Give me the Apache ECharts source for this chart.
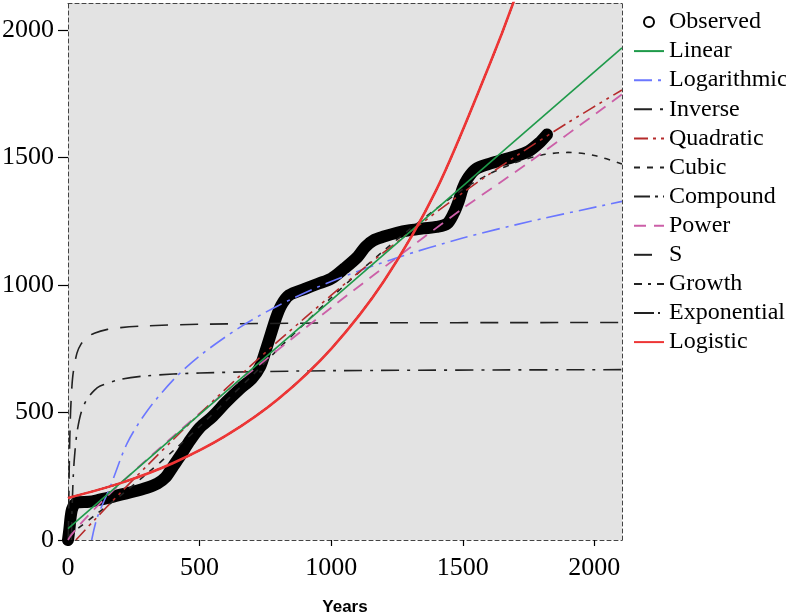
<!DOCTYPE html>
<html>
<head>
<meta charset="utf-8">
<script src="https://cdn.jsdelivr.net/npm/echarts@6/dist/echarts.min.js"></script>
<style>
  html, body { margin: 0; padding: 0; background: #fff; }
  #main { width: 786px; height: 616px; }
</style>
</head>
<body>
<div id="main"></div>
<script>
var xTicks = [0, 500, 1000, 1500, 2000];
var yTicks = [0, 500, 1000, 1500, 2000];

// observed values (years, value)
var observed = [[0,0],[5,40],[10,90],[15,120],[25,140],[40,148],[80,150],[120,158],[160,167],[200,178],[250,190],[300,205],[340,222],[370,245],[400,290],[430,335],[460,385],[500,440],[550,485],[600,540],[650,590],[700,635],[730,680],[750,740],[770,805],[790,870],[810,920],[840,960],[900,985],[950,1005],[1000,1025],[1050,1065],[1100,1110],[1130,1150],[1160,1175],[1200,1190],[1250,1205],[1300,1215],[1350,1222],[1400,1228],[1440,1240],[1465,1280],[1485,1330],[1500,1380],[1520,1420],[1550,1455],[1600,1475],[1650,1490],[1700,1505],[1750,1525],[1790,1557],[1820,1590]];

// fitted curves
var linearFit = [[0,45],[2105,1930]];
var logFit = [[90,0],[110,85],[160,208],[225,380],[300,505],[400,628],[500,722],[650,832],[800,920],[1000,1014],[1250,1107],[1500,1184],[1750,1248],[2105,1328]];
var inverseFit = [[13,0],[15,105],[20,250],[25,330],[34,420],[50,500],[72,552],[100,587],[122,604],[200,630],[300,644],[500,655],[1000,664],[2105,668]];
var quadraticFit = [[30,0],[100,78],[200,186],[300,291],[400,394],[500,495],[700,689],[900,871],[1100,1046],[1300,1208],[1500,1362],[1700,1504],[1900,1637],[2105,1765]];
var cubicFit = [[0,15],[100,95],[200,175],[300,260],[400,350],[500,445],[600,545],[700,645],[800,750],[900,850],[1000,950],[1100,1045],[1200,1135],[1300,1220],[1400,1300],[1500,1375],[1600,1435],[1700,1480],[1800,1510],[1900,1520],[2000,1508],[2105,1475]];
var powerFit = [[0,0],[10,16],[50,66],[100,121],[200,222],[300,316],[500,496],[700,665],[1000,911],[1250,1108],[1500,1300],[1750,1480],[2105,1748]];
var sFit = [[1,5],[2,63],[3,152],[4,233],[5,301],[6,360],[8,446],[10,509],[15,604],[20,657],[34,733],[50,769],[72,795],[100,811],[150,826],[200,833],[300,840],[500,846],[1000,851],[2105,853]];
var expFit = [[0,165],[200,223],[400,302],[600,409],[800,554],[1000,750],[1200,1015],[1400,1374],[1600,1860],[1700,2130],[1800,2440]];

var serif = "'Liberation Serif', 'Times New Roman', serif";
var frame = { show: true, onZero: false, lineStyle: { color: "#444", type: [4, 3], width: 1 } };

function fit(name, data, color, dash, width) {
  return {
    name: name,
    type: "line",
    data: data,
    symbol: "none",
    smooth: 0.3,
    lineStyle: { color: color, width: width || 1.5, type: dash || "solid" },
    itemStyle: { color: color },
  };
}

function plain(v) { return String(v); }

var myChart = echarts.init(document.getElementById("main"));
var option = {
  animation: false,
  grid: {
    left: 68, right: 164, top: 3, bottom: 76,
    outerBoundsMode: "none", containLabel: false,
    show: true, backgroundColor: "#e3e3e3", borderWidth: 0,
  },
  legend: {
    orient: "vertical",
    left: 628, top: 5,
    itemWidth: 30, itemHeight: 10, itemGap: 5.1,
    textStyle: { fontFamily: serif, fontSize: 24, lineHeight: 24, color: "#000" },
    itemStyle: { opacity: 0 },
    data: [
      { name: "Observed", icon: "emptyCircle", itemStyle: { opacity: 1, color: "#000", borderWidth: 1.5 } },
      "Linear", "Logarithmic", "Inverse", "Quadratic", "Cubic", "Compound",
      "Power", "S", "Growth", "Exponential", "Logistic",
    ],
  },
  xAxis: [
    {
      type: "value", min: 0, max: 2105, position: "bottom",
      name: "Years", nameLocation: "middle", nameGap: 59,
      nameTextStyle: { fontFamily: "'Liberation Sans', Arial, sans-serif", fontWeight: "bold", fontSize: 17, color: "#000" },
      axisLine: frame,
      axisTick: { customValues: xTicks, length: 6, lineStyle: { color: "#000", width: 1.2 } },
      axisLabel: { customValues: xTicks, formatter: plain, fontFamily: serif, fontSize: 26, color: "#000", margin: 15 },
      splitLine: { show: false },
    },
    {
      type: "value", min: 0, max: 2105, position: "top",
      axisLine: frame,
      axisTick: { show: false }, axisLabel: { show: false }, splitLine: { show: false },
    },
  ],
  yAxis: [
    {
      type: "value", min: 0, max: 2106, position: "left",
      axisLine: frame,
      axisTick: { show: true, customValues: yTicks, length: 10, lineStyle: { color: "#000", width: 1.2 } },
      axisLabel: { customValues: yTicks, formatter: plain, fontFamily: serif, fontSize: 26, color: "#000", margin: 14 },
      splitLine: { show: false },
    },
    {
      type: "value", min: 0, max: 2106, position: "right",
      axisLine: frame,
      axisTick: { show: false }, axisLabel: { show: false }, splitLine: { show: false },
    },
  ],
  series: [
    {
      name: "Observed", type: "line", data: observed, symbol: "none", smooth: 0.3,
      lineStyle: { color: "#000", width: 12, cap: "round", join: "round" },
      itemStyle: { color: "#000" },
    },
    fit("Compound", expFit, "#222", [16, 5, 3, 5]),
    fit("Growth", expFit, "#222", [8, 6, 3, 6]),
    fit("Exponential", expFit, "#222", [20, 4, 2, 4]),
    fit("Inverse", inverseFit, "#222", [18, 8, 3, 8], 1.6),
    fit("S", sFit, "#222", [18, 12], 1.6),
    fit("Cubic", cubicFit, "#222", [6, 7], 1.6),
    fit("Power", powerFit, "#cc5fa8", [12, 8], 1.8),
    fit("Logarithmic", logFit, "#6b77ff", [18, 6, 3, 6], 1.6),
    fit("Quadratic", quadraticFit, "#b52b2b", [14, 5, 3, 5, 3, 5], 1.6),
    fit("Linear", linearFit, "#1f9a4a", "solid", 1.6),
    fit("Logistic", expFit, "#ee3535", "solid", 2.6),
  ],
};
myChart.setOption(option);
</script>
</body>
</html>
